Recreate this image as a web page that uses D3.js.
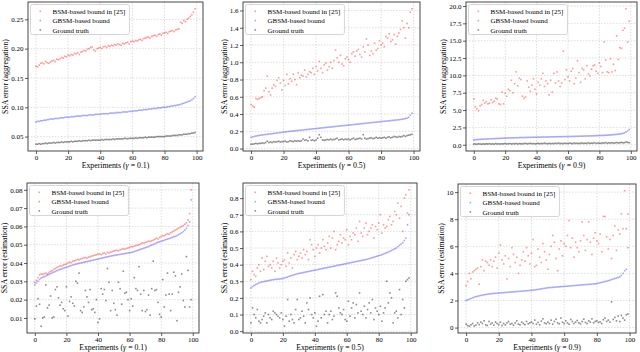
<!DOCTYPE html>
<html>
<head>
<meta charset="utf-8">
<script src="https://cdn.jsdelivr.net/npm/d3@7"></script>
<style>
  body { margin: 0; background: #fff; }
  svg { display: block; }
  text { font-family: "Liberation Serif", "Times New Roman", serif; fill: #000; }
</style>
</head>
<body>
<svg id="chart" width="640" height="352"></svg>
<script>

// experiment index shared by every panel
let experiments = d3.range(100);
let xTicks = [0, 20, 40, 60, 80, 100];
let seriesNames = ['BSM-based bound in [25]', 'GBSM-based bound', 'Ground truth'];
let gammas = ['0.1', '0.5', '0.9'];

// ---- aggregation, gamma = 0.1
let bsmAgg1 = [.170,.169,.172,.175,.176,.174,.178,.176,.175,.177,.179,.180,.178,.182,.181,.183,.185,.184,.187,.186,
  .189,.188,.190,.189,.192,.191,.193,.190,.194,.195,.197,.196,.199,.200,.202,.203,.198,.196,.200,.201,
  .202,.200,.203,.204,.202,.205,.204,.206,.205,.207,.206,.208,.207,.206,.209,.208,.210,.211,.208,.212,
  .213,.212,.214,.213,.215,.216,.214,.217,.218,.219,.220,.218,.221,.222,.223,.221,.224,.225,.223,.226,
  .227,.228,.226,.229,.230,.231,.229,.232,.233,.234,.245,.243,.248,.246,.250,.252,.255,.258,.262,.268];
let gbsmAgg1 = [.075,.076,.076,.077,.077,.078,.078,.079,.079,.080,.080,.080,.081,.081,.081,.082,.082,.082,.083,.083,
  .083,.083,.084,.084,.084,.085,.085,.085,.085,.086,.086,.086,.086,.087,.087,.087,.087,.088,.088,.088,
  .088,.089,.089,.089,.089,.089,.090,.090,.090,.090,.091,.091,.091,.091,.092,.092,.092,.092,.093,.093,
  .093,.094,.094,.094,.095,.095,.095,.096,.096,.096,.097,.097,.097,.098,.098,.098,.099,.099,.099,.100,
  .100,.100,.101,.101,.102,.102,.103,.103,.104,.104,.105,.106,.107,.108,.109,.110,.111,.113,.115,.118];
let truthAgg1 = [.037,.037,.038,.037,.038,.038,.039,.038,.039,.039,.039,.040,.039,.040,.040,.040,.041,.040,.041,.041,
  .041,.041,.042,.041,.042,.042,.042,.043,.042,.043,.043,.043,.043,.044,.043,.044,.044,.044,.044,.044,
  .044,.045,.044,.045,.045,.045,.045,.045,.046,.045,.046,.046,.046,.046,.046,.047,.047,.046,.047,.047,
  .047,.047,.048,.047,.048,.048,.048,.048,.049,.048,.049,.049,.049,.049,.049,.050,.050,.050,.050,.050,
  .050,.051,.051,.051,.051,.052,.052,.052,.052,.053,.053,.053,.054,.054,.054,.055,.055,.056,.056,.057];

// ---- aggregation, gamma = 0.5
let bsmAgg5 = [.51,.49,.48,.58,.57,.58,.59,.60,.67,.70,.84,.66,.62,.70,.74,.72,.79,.82,.76,.68,
  .79,.73,.86,.75,.81,.78,.86,.80,.74,.88,.82,.85,.84,.91,.83,.86,.89,.88,.93,.86,
  .95,.90,1.01,.93,.88,.97,.99,.91,.95,1.00,.93,1.02,1.14,1.05,1.00,1.08,.98,.96,1.04,1.06,
  1.03,1.00,1.10,1.12,1.07,1.13,1.15,1.09,1.06,1.18,1.12,1.27,1.20,1.08,1.13,1.10,1.22,1.14,1.16,1.25,
  1.20,1.22,1.18,1.30,1.28,1.33,1.24,1.26,1.32,1.21,1.30,1.34,1.38,1.48,1.40,1.28,1.45,1.40,1.58,1.62];
let gbsmAgg5 = [.130,.135,.140,.145,.148,.152,.155,.158,.160,.163,.165,.168,.170,.172,.175,.177,.180,.182,.185,.188,
  .190,.192,.195,.197,.200,.202,.204,.206,.208,.210,.212,.214,.216,.218,.220,.222,.224,.226,.228,.230,
  .232,.234,.236,.238,.240,.242,.244,.246,.248,.250,.252,.254,.256,.258,.260,.262,.264,.266,.268,.270,
  .272,.274,.276,.278,.280,.282,.284,.286,.288,.290,.292,.294,.296,.298,.300,.302,.304,.306,.308,.310,
  .312,.314,.316,.318,.320,.322,.324,.326,.328,.330,.332,.334,.337,.340,.343,.347,.352,.362,.385,.410];
let truthAgg5 = [.050,.050,.055,.060,.055,.060,.060,.065,.060,.070,.085,.070,.075,.070,.080,.075,.080,.085,.075,.080,
  .080,.085,.075,.080,.090,.085,.080,.090,.085,.090,.085,.090,.110,.095,.100,.090,.130,.095,.100,.090,
  .100,.120,.160,.130,.100,.095,.100,.105,.100,.110,.100,.105,.110,.120,.100,.105,.110,.100,.110,.105,
  .110,.100,.110,.120,.105,.110,.115,.120,.110,.160,.120,.110,.115,.120,.125,.115,.120,.130,.120,.125,
  .120,.125,.130,.120,.130,.135,.125,.130,.140,.135,.130,.140,.135,.140,.150,.140,.150,.155,.160,.165];

// ---- aggregation, gamma = 0.9
let bsmAgg9 = [6.6,5.5,5.2,4.9,5.6,5.8,6.4,6.0,6.2,5.9,6.0,6.5,6.1,6.3,6.7,6.6,5.9,5.8,7.6,5.9,
  7.4,7.0,8.0,7.8,9.3,7.5,8.8,10.5,8.5,9.6,9.4,7.0,6.7,6.9,9.2,8.3,7.7,8.6,9.5,8.0,
  7.3,9.0,8.6,9.5,10.3,8.4,9.2,8.8,7.2,9.3,7.6,10.3,8.9,10.5,9.2,8.4,8.9,13.5,9.4,10.8,
  9.8,9.2,10.6,11.0,8.8,9.6,12.1,10.4,9.0,11.0,10.8,9.5,11.4,10.2,9.9,10.9,11.4,11.5,10.6,10.3,
  11.8,11.3,10.4,14.8,12.2,10.5,10.4,12.4,10.5,11.6,10.7,15.7,12.3,14.0,13.9,16.5,16.8,19.6,14.8,17.8];
let gbsmAgg9 = [.70,.72,.74,.76,.78,.80,.81,.82,.84,.85,.86,.87,.88,.89,.90,.91,.92,.93,.94,.95,
  .96,.97,.98,.99,1.00,1.00,1.01,1.02,1.02,1.03,1.04,1.04,1.05,1.05,1.06,1.07,1.07,1.08,1.08,1.09,
  1.09,1.10,1.10,1.11,1.11,1.12,1.12,1.13,1.13,1.14,1.14,1.15,1.15,1.16,1.16,1.17,1.17,1.18,1.18,1.19,
  1.19,1.20,1.20,1.21,1.21,1.22,1.22,1.23,1.24,1.24,1.25,1.26,1.26,1.27,1.28,1.28,1.29,1.30,1.31,1.32,
  1.33,1.34,1.35,1.36,1.37,1.38,1.40,1.42,1.44,1.46,1.48,1.50,1.53,1.56,1.60,1.65,1.72,1.85,2.00,2.20];
let truthAgg9 = [.10,.12,.08,.15,.11,.09,.13,.10,.14,.12,.16,.11,.13,.10,.18,.12,.14,.11,.15,.13,
  .20,.12,.15,.18,.13,.16,.14,.19,.12,.17,.15,.13,.18,.20,.14,.16,.22,.15,.18,.14,
  .17,.21,.15,.19,.16,.24,.18,.15,.20,.17,.19,.16,.22,.18,.25,.17,.20,.16,.23,.19,
  .18,.24,.20,.17,.26,.19,.22,.18,.21,.25,.20,.23,.19,.28,.21,.24,.22,.30,.20,.26,
  .23,.21,.27,.24,.32,.22,.28,.25,.30,.23,.27,.33,.25,.29,.35,.28,.31,.40,.34,.30];

// ---- estimation, gamma = 0.1
let bsmEst1 = [.0295,.0305,.0320,.0335,.0340,.0338,.0342,.0345,.0340,.0348,.0355,.0358,.0365,.0370,.0375,.0380,.0385,.0383,.0390,.0392,
  .0395,.0400,.0405,.0402,.0410,.0412,.0415,.0420,.0418,.0422,.0425,.0428,.0430,.0426,.0432,.0435,.0438,.0440,.0443,.0445,
  .0448,.0450,.0446,.0452,.0455,.0450,.0458,.0455,.0460,.0462,.0465,.0468,.0470,.0466,.0472,.0475,.0478,.0476,.0480,.0482,
  .0485,.0490,.0488,.0492,.0495,.0498,.0500,.0505,.0510,.0508,.0512,.0515,.0520,.0518,.0522,.0525,.0530,.0535,.0532,.0540,
  .0545,.0550,.0548,.0555,.0560,.0558,.0565,.0570,.0575,.0580,.0585,.0590,.0595,.0600,.0605,.0612,.0620,.0635,.0670,.0800];
let gbsmEst1 = [.0280,.0290,.0300,.0310,.0318,.0322,.0326,.0330,.0334,.0338,.0342,.0346,.0350,.0354,.0358,.0362,.0365,.0368,.0371,.0374,
  .0377,.0380,.0383,.0386,.0389,.0392,.0394,.0396,.0398,.0400,.0402,.0404,.0406,.0408,.0410,.0412,.0414,.0416,.0418,.0420,
  .0422,.0424,.0426,.0428,.0430,.0432,.0434,.0436,.0438,.0440,.0441,.0443,.0444,.0446,.0447,.0449,.0450,.0452,.0453,.0455,
  .0456,.0458,.0460,.0463,.0466,.0469,.0472,.0475,.0478,.0481,.0484,.0487,.0490,.0494,.0498,.0502,.0506,.0510,.0513,.0516,
  .0519,.0522,.0525,.0528,.0531,.0534,.0537,.0540,.0543,.0546,.0550,.0555,.0560,.0565,.0572,.0580,.0590,.0605,.0625,.0745];
let truthEst1 = [.0095,.0165,.0205,.0175,.0055,.0100,.0105,.0280,.0155,.0170,.0220,.0100,.0105,.0255,.0270,.0210,.0170,.0185,.0150,.0140,
  .0270,.0110,.0190,.0215,.0180,.0165,.0300,.0290,.0345,.0140,.0130,.0160,.0250,.0215,.0185,.0255,.0145,.0150,.0130,.0200,
  .0075,.0095,.0260,.0230,.0255,.0195,.0370,.0295,.0140,.0250,.0180,.0145,.0115,.0295,.0260,.0175,.0355,.0235,.0240,.0200,
  .0140,.0205,.0165,.0320,.0260,.0250,.0380,.0230,.0140,.0250,.0135,.0145,.0225,.0115,.0260,.0410,.0250,.0255,.0185,.0120,
  .0105,.0310,.0160,.0225,.0345,.0230,.0140,.0230,.0350,.0330,.0085,.0240,.0270,.0340,.0195,.0160,.0435,.0360,.0160,.0200];

// ---- estimation, gamma = 0.5
let bsmEst5 = [.31,.36,.34,.33,.38,.40,.36,.44,.37,.42,.45,.39,.40,.38,.42,.36,.44,.41,.38,.40,
  .42,.43,.39,.47,.41,.44,.38,.46,.48,.43,.45,.47,.44,.49,.46,.48,.43,.55,.52,.49,
  .45,.50,.52,.47,.50,.55,.51,.49,.53,.57,.50,.56,.60,.49,.52,.54,.58,.53,.56,.55,
  .61,.52,.57,.55,.59,.58,.62,.54,.66,.59,.57,.62,.65,.58,.60,.62,.64,.56,.63,.61,
  .65,.70,.59,.64,.62,.63,.67,.69,.64,.66,.72,.70,.77,.68,.75,.60,.80,.82,.71,.85];
let gbsmEst5 = [.260,.268,.275,.280,.285,.290,.293,.296,.298,.300,.302,.304,.306,.308,.310,.311,.312,.313,.314,.315,
  .317,.320,.323,.326,.330,.333,.336,.339,.342,.345,.347,.349,.351,.353,.355,.357,.359,.361,.363,.365,
  .367,.369,.371,.373,.375,.377,.379,.381,.383,.385,.387,.389,.391,.393,.395,.397,.399,.401,.403,.405,
  .407,.409,.411,.413,.415,.417,.419,.421,.423,.425,.427,.429,.431,.433,.436,.439,.442,.445,.448,.451,
  .454,.457,.460,.464,.468,.472,.476,.480,.485,.490,.495,.500,.508,.516,.524,.532,.545,.560,.640,.700];
let truthEst5 = [.05,.14,.10,.08,.13,.06,.05,.07,.09,.11,.05,.10,.08,.07,.12,.11,.10,.09,.08,.11,
  .07,.03,.09,.19,.06,.10,.07,.05,.13,.19,.07,.08,.12,.09,.05,.17,.13,.20,.10,.08,
  .11,.03,.06,.21,.08,.22,.10,.12,.05,.10,.12,.07,.09,.23,.21,.14,.11,.10,.13,.07,
  .06,.18,.09,.14,.17,.08,.16,.11,.23,.12,.10,.15,.08,.13,.17,.11,.19,.07,.14,.12,
  .10,.15,.06,.11,.14,.30,.17,.23,.20,.05,.11,.12,.08,.25,.10,.19,.14,.30,.31,.32];

// ---- estimation, gamma = 0.9
let bsmEst9 = [3.1,3.4,4.0,3.6,4.1,4.2,4.3,4.4,3.2,4.5,5.0,4.2,4.9,4.8,4.6,5.0,4.5,4.9,5.2,4.4,
  5.5,6.1,5.0,4.7,5.3,3.6,5.1,4.5,5.9,5.4,4.8,5.2,4.0,4.6,5.0,5.6,4.9,5.9,5.3,4.7,
  5.5,6.5,4.5,4.6,5.8,5.2,4.8,6.2,5.6,5.0,4.3,5.4,6.0,6.8,6.3,5.1,4.2,5.8,6.4,5.3,
  6.2,6.0,6.8,7.9,5.9,6.6,5.2,6.3,5.9,5.6,6.4,7.8,6.8,5.7,6.5,7.8,6.3,5.4,6.6,7.0,
  6.4,6.2,6.9,5.6,8.2,8.2,6.7,5.8,6.5,5.1,6.8,7.5,5.7,7.2,6.9,8.4,7.3,10.1,7.3,8.4];
let gbsmEst9 = [2.00,2.05,2.10,2.15,2.20,2.25,2.28,2.31,2.34,2.37,2.40,2.42,2.44,2.46,2.48,2.50,2.51,2.52,2.53,2.54,
  2.55,2.56,2.57,2.58,2.59,2.60,2.61,2.62,2.63,2.64,2.65,2.66,2.67,2.68,2.69,2.70,2.71,2.72,2.73,2.74,
  2.75,2.76,2.78,2.80,2.82,2.84,2.86,2.88,2.90,2.92,2.94,2.95,2.96,2.97,2.98,2.99,3.00,3.01,3.02,3.03,
  3.04,3.05,3.06,3.07,3.08,3.09,3.10,3.11,3.12,3.13,3.14,3.15,3.16,3.17,3.18,3.19,3.20,3.21,3.22,3.23,
  3.25,3.28,3.31,3.34,3.37,3.40,3.43,3.46,3.50,3.54,3.58,3.62,3.66,3.70,3.75,3.85,4.00,4.20,4.30,5.90];
let truthEst9 = [.25,.15,.10,.20,.30,.12,.18,.35,.22,.40,.30,.50,.20,.15,.45,.25,.35,.18,.40,.30,
  .22,.40,.15,.30,.20,.35,.45,.25,.30,.18,.35,.50,.25,.20,.40,.30,.22,.45,.28,.35,
  .42,.30,.55,.25,.38,.20,.48,.65,.35,.28,.40,.30,.55,.25,.45,.62,.35,.28,.70,.40,
  .30,.50,.35,.25,.60,.45,.30,.40,.52,.35,.28,.45,.62,.38,.30,.50,.40,.65,.35,.45,
  .50,.38,.42,.30,.58,.70,.45,.55,.40,1.90,.60,.75,.50,.85,.45,.90,.70,.55,.95,1.00];

// y tick values for each panel
let yTicksAgg1 = [0.05, 0.10, 0.15, 0.20, 0.25];
let yTicksAgg5 = [0, 0.2, 0.4, 0.6, 0.8, 1.0, 1.2, 1.4, 1.6];
let yTicksAgg9 = [0, 2.5, 5, 7.5, 10, 12.5, 15, 17.5, 20];
let yTicksEst1 = [0.01, 0.02, 0.03, 0.04, 0.05, 0.06, 0.07, 0.08];
let yTicksEst5 = [0, 0.1, 0.2, 0.3, 0.4, 0.5, 0.6, 0.7, 0.8];
let yTicksEst9 = [0, 2, 4, 6, 8, 10];

let Colors = ['#ff0000', '#0000ff', '#000000'];
let Opacity = [0.4, 0.35, 0.45];

let Font = {
    Tick: 7,
    Label: 7.8,
    Legend: 7
};

let panels = [
    { series: [bsmAgg1, gbsmAgg1, truthAgg1], yTicks: yTicksAgg1, fmt: '.2f', kind: 'aggregation', gamma: 0, box: [28, 2, 203, 151] },
    { series: [bsmAgg5, gbsmAgg5, truthAgg5], yTicks: yTicksAgg5, fmt: '.1f', kind: 'aggregation', gamma: 1, box: [243, 2, 420, 151] },
    { series: [bsmAgg9, gbsmAgg9, truthAgg9], yTicks: yTicksAgg9, fmt: '.1f', kind: 'aggregation', gamma: 2, box: [466, 2, 637, 151] },
    { series: [bsmEst1, gbsmEst1, truthEst1], yTicks: yTicksEst1, fmt: '.2f', kind: 'estimation', gamma: 0, box: [27, 183, 199, 333] },
    { series: [bsmEst5, gbsmEst5, truthEst5], yTicks: yTicksEst5, fmt: '.1f', kind: 'estimation', gamma: 1, box: [243, 183, 417, 333] },
    { series: [bsmEst9, gbsmEst9, truthEst9], yTicks: yTicksEst9, fmt: 'd', kind: 'estimation', gamma: 2, box: [458, 184, 636, 333] }
];

let svg = d3.select('#chart');

panels.forEach(p => {
    let [x0, y0, x1, y1] = p.box;
    let all = p.series.flat();
    let lo = d3.min(all), hi = d3.max(all);
    let pad = (hi - lo) * 0.05;

    let x = d3.scaleLinear().domain([-4.95, 103.95]).range([x0, x1]);
    let y = d3.scaleLinear().domain([lo - pad, hi + pad]).range([y1, y0]);

    let g = svg.append('g');

    // grid
    g.selectAll('.gx').data(xTicks).join('line')
        .attr('x1', d => x(d)).attr('x2', d => x(d))
        .attr('y1', y0).attr('y2', y1)
        .attr('stroke', '#c8c8c8').attr('stroke-width', 0.6)
        .attr('stroke-dasharray', '1.5,1.5');
    g.selectAll('.gy').data(p.yTicks).join('line')
        .attr('x1', x0).attr('x2', x1)
        .attr('y1', d => y(d)).attr('y2', d => y(d))
        .attr('stroke', '#c8c8c8').attr('stroke-width', 0.6)
        .attr('stroke-dasharray', '1.5,1.5');

    // points
    p.series.forEach((vals, si) => {
        g.append('g')
            .selectAll('rect')
            .data(experiments)
            .join('rect')
            .attr('x', i => x(i) - 0.8)
            .attr('y', i => y(vals[i]) - 0.8)
            .attr('width', 1.6)
            .attr('height', 1.6)
            .attr('fill', Colors[si])
            .attr('fill-opacity', Opacity[si]);
    });

    // axes
    let xAxis = g.append('g')
        .attr('transform', `translate(0,${y1})`)
        .call(d3.axisBottom(x).tickValues(xTicks).tickSize(3).tickPadding(1.5).tickFormat(d3.format('d')));
    let yAxis = g.append('g')
        .attr('transform', `translate(${x0},0)`)
        .call(d3.axisLeft(y).tickValues(p.yTicks).tickSize(3).tickPadding(1.5).tickFormat(d3.format(p.fmt)));
    [xAxis, yAxis].forEach(a => {
        a.select('.domain').remove();
        a.attr('font-family', null);
        a.selectAll('text').attr('font-size', Font.Tick).attr('fill', '#000');
        a.selectAll('line').attr('stroke', '#333').attr('stroke-width', 0.8);
    });

    g.append('rect')
        .attr('x', x0).attr('y', y0)
        .attr('width', x1 - x0).attr('height', y1 - y0)
        .attr('fill', 'none').attr('stroke', '#333').attr('stroke-width', 0.9);

    // labels
    let xl = g.append('text')
        .attr('x', (x0 + x1) / 2).attr('y', y1 + 17)
        .attr('text-anchor', 'middle').attr('font-size', Font.Label);
    xl.append('tspan').text('Experiments (');
    xl.append('tspan').attr('font-style', 'italic').text('γ');
    xl.append('tspan').text(' = ' + gammas[p.gamma] + ')');

    let tickW = d3.max(yAxis.selectAll('text').nodes(), n => n.getComputedTextLength());
    g.append('text')
        .attr('transform', `translate(${x0 - tickW - 7.5},${(y0 + y1) / 2}) rotate(-90)`)
        .attr('text-anchor', 'middle').attr('font-size', Font.Label)
        .text(`SSA error (${p.kind})`);

    // legend
    let lg = g.append('g').attr('transform', `translate(${x0 + 2.5},${y0 + 2.5})`);
    let box = lg.append('rect')
        .attr('height', 30).attr('rx', 2)
        .attr('fill', '#fff').attr('fill-opacity', 0.85)
        .attr('stroke', '#cccccc').attr('stroke-width', 0.8);
    let widest = 0;
    seriesNames.forEach((name, i) => {
        lg.append('rect')
            .attr('x', 9).attr('y', 6 + i * 9.3)
            .attr('width', 1.6).attr('height', 1.6)
            .attr('fill', Colors[i]).attr('fill-opacity', Opacity[i]);
        let t = lg.append('text')
            .attr('x', 22).attr('y', 9.5 + i * 9.3)
            .attr('font-size', Font.Legend)
            .text(name);
        widest = Math.max(widest, t.node().getComputedTextLength());
    });
    box.attr('width', widest + 26);
});
</script>
</body>
</html>
